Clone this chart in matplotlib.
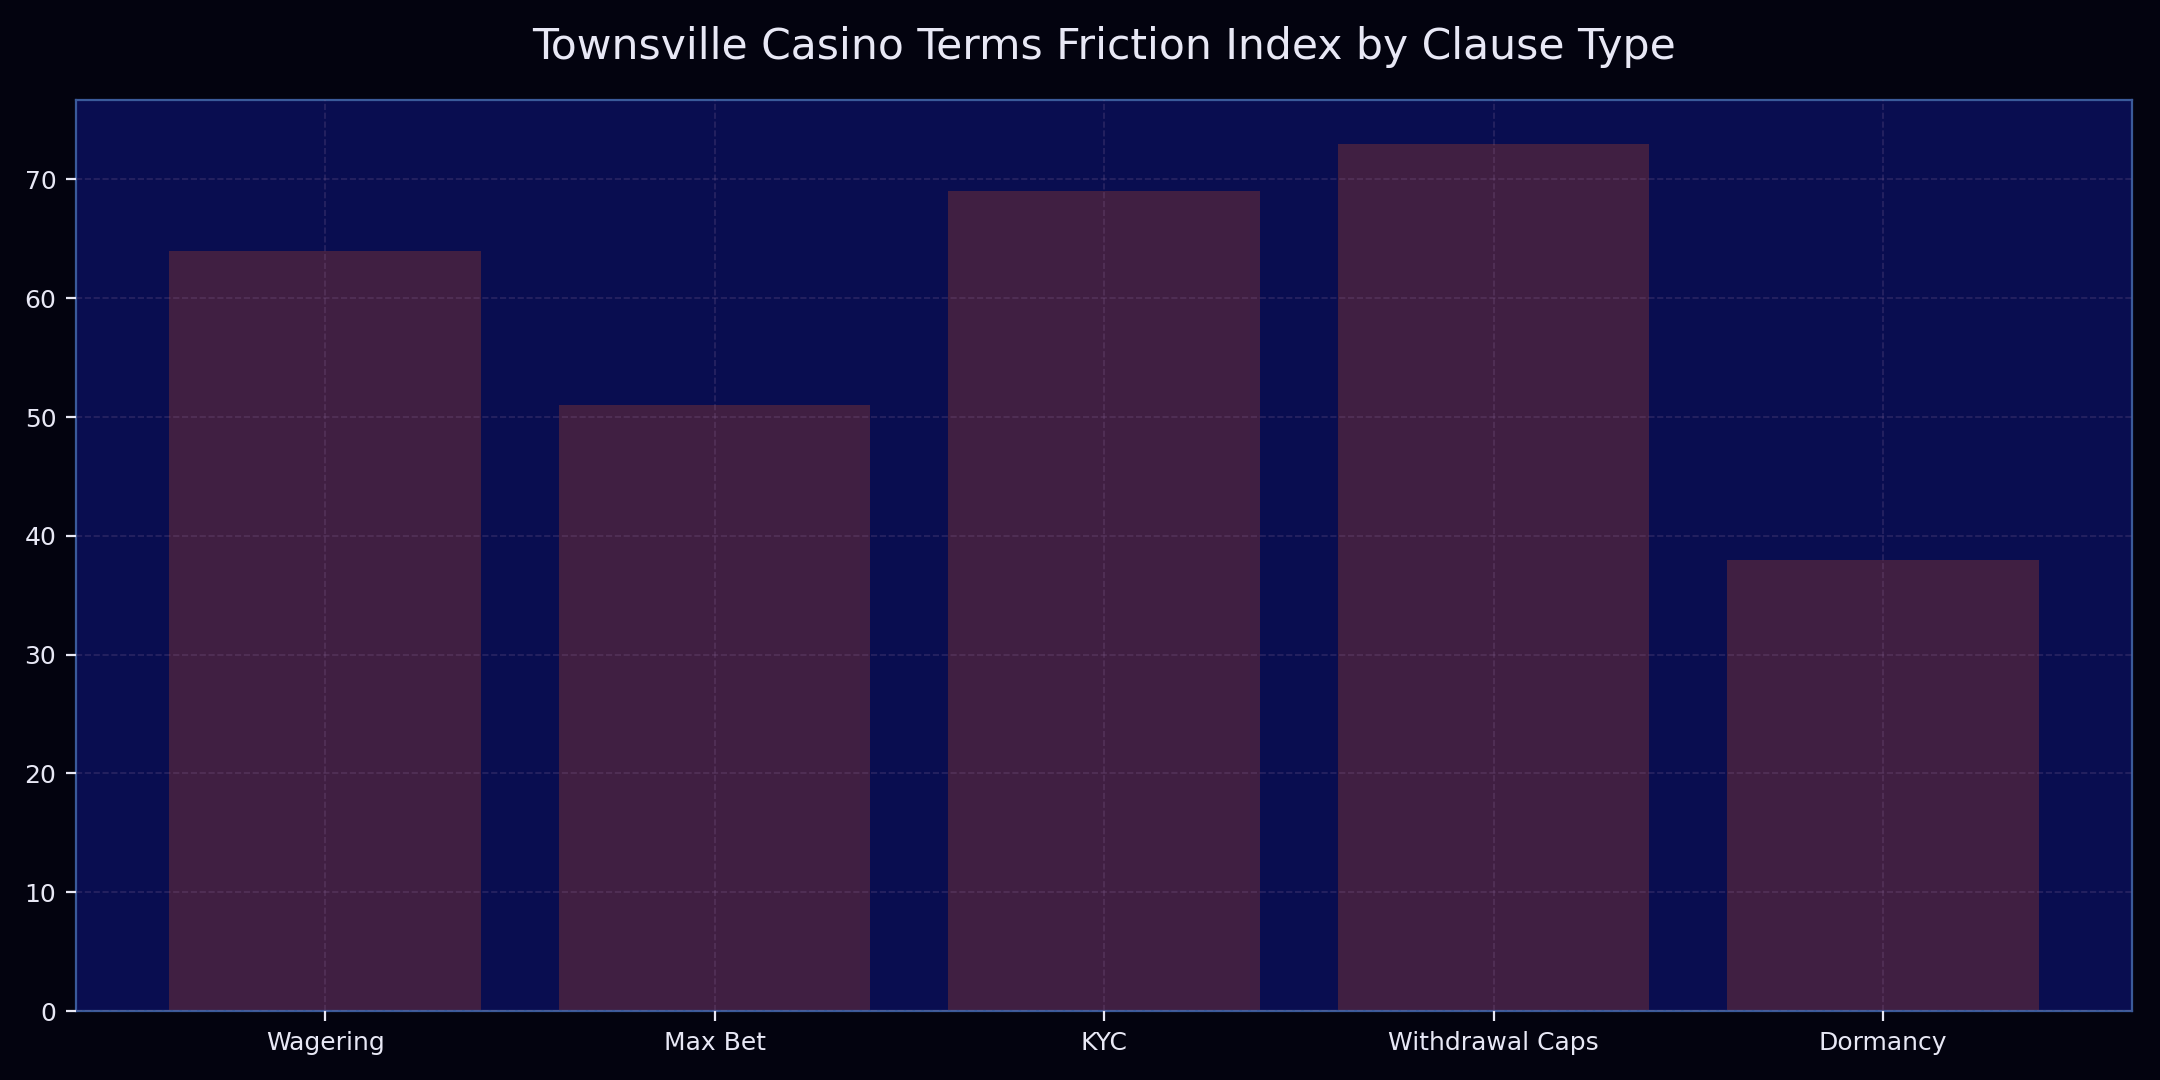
import matplotlib
matplotlib.use("Agg")
import matplotlib.pyplot as plt

categories = ["Wagering", "Max Bet", "KYC", "Withdrawal Caps", "Dormancy"]
values = [64, 51, 69, 73, 38]

title = "Townsville Casino Terms Friction Index by Clause Type"

fig_bg = "#03030f"
ax_bg = "#090d50"
bar_color = "#401f42"
text_color = "#e8e8f5"
spine_color = "#3a5a9a"

fig, ax = plt.subplots(figsize=(10.8, 5.4), dpi=200)
fig.patch.set_facecolor(fig_bg)
ax.set_facecolor(ax_bg)

ax.bar(categories, values, width=0.8, color=bar_color, zorder=2)
ax.grid(True, linestyle="--", color="#8a6a9a", alpha=0.25, linewidth=0.6, zorder=3)
ax.set_axisbelow(False)

for s in ax.spines.values():
    s.set_color(spine_color)
    s.set_linewidth(0.8)
ax.tick_params(colors=text_color, labelsize=9)
for lbl in ax.get_xticklabels() + ax.get_yticklabels():
    lbl.set_color(text_color)

ax.set_title(title, color=text_color, fontsize=15.3, pad=15)

fig.subplots_adjust(left=0.0351, right=0.9872, top=0.907, bottom=0.0638)
fig.savefig("out.png", dpi=200, facecolor=fig_bg)
